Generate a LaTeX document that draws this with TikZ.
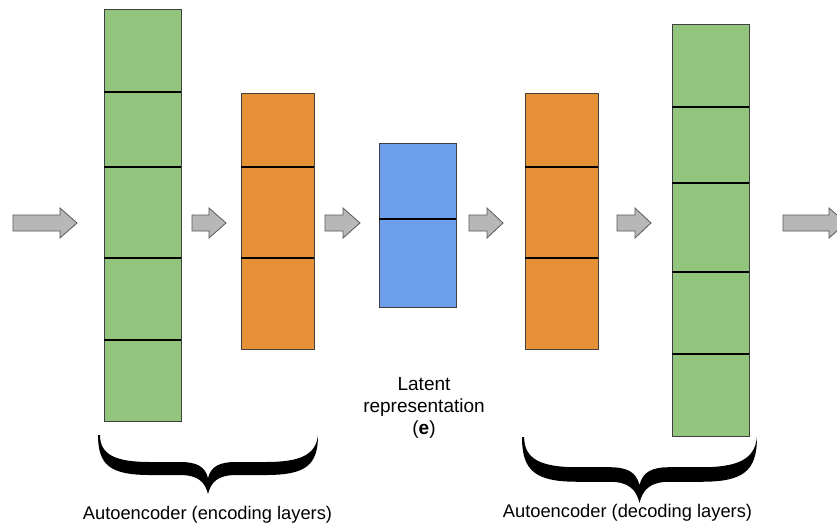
\documentclass[tikz,border=0pt]{standalone}
\usepackage{fontspec}
\setmainfont{Liberation Sans}
\definecolor{lgreen}{HTML}{93C47D}
\definecolor{lorange}{HTML}{E69138}
\definecolor{lblue}{HTML}{6D9EEB}
\definecolor{agray}{HTML}{B7B7B7}
\definecolor{aedge}{HTML}{595959}
\newcommand\garrow[3]{\draw[blockarrow] (#1,215) -- (#2,215) -- (#2,208) -- (#3,223) -- (#2,238) -- (#2,231) -- (#1,231) -- cycle;}
\newcommand\bracefill{\fill (0,0) .. controls (0,30) and (12,40) .. (52,40) -- (82,40) .. controls (100,40) and (107,47) .. (110,59) .. controls (113,47) and (120,40) .. (138,40) -- (168,40) .. controls (208,40) and (220,30) .. (220,0) .. controls (218,20) and (202,27) .. (168,27) -- (138,27) .. controls (122,27) and (113,31) .. (110,43) .. controls (107,31) and (98,27) .. (82,27) -- (52,27) .. controls (18,27) and (2,20) .. (2,0) -- cycle;}
\begin{document}
\begin{tikzpicture}[x=1pt,y=-1pt,
  layer/.style={draw=black!75, line width=0.8pt, inner sep=0pt, outer sep=0pt},
  div/.style={line width=2.6pt, black},
  blockarrow/.style={fill=agray, draw=aedge, line width=0.8pt, line join=miter},
  lbl/.style={font=\fontsize{18.3}{22}\selectfont, align=center, inner sep=0pt},
  latlbl/.style={font=\fontsize{19}{22}\selectfont, align=center, inner sep=0pt}]
\useasboundingbox (0,0) rectangle (837,527);
\clip (0,0) rectangle (837,527);
\fill[white] (0,0) rectangle (837,527);
% layers
\node[layer, fill=lgreen, minimum width=77pt, minimum height=412pt] (g1) at (142.5,215) {};
\node[layer, fill=lorange, minimum width=73pt, minimum height=256pt] (o1) at (277.5,221) {};
\node[layer, fill=lblue, minimum width=77pt, minimum height=164pt] (b) at (417.5,225) {};
\node[layer, fill=lorange, minimum width=73pt, minimum height=256pt] (o2) at (561.5,221) {};
\node[layer, fill=lgreen, minimum width=77pt, minimum height=412pt] (g2) at (710.5,230) {};
% dividers
\foreach \yy in {92,167,258,340} {\draw[div] (g1.west |- 0,\yy) -- (g1.east |- 0,\yy);}
\foreach \yy in {167,258} {\draw[div] (o1.west |- 0,\yy) -- (o1.east |- 0,\yy);}
\draw[div] (b.west |- 0,219) -- (b.east |- 0,219);
\foreach \yy in {167,258} {\draw[div] (o2.west |- 0,\yy) -- (o2.east |- 0,\yy);}
\foreach \yy in {107,183,272,354} {\draw[div] (g2.west |- 0,\yy) -- (g2.east |- 0,\yy);}
% block arrows
\garrow{13}{60}{77}
\garrow{192}{209}{226}
\garrow{325}{343}{360}
\garrow{469}{487}{503}
\garrow{617}{635}{651}
\garrow{783}{829}{846}
% braces
\begin{scope}[shift={(98,435)}]
\bracefill
\end{scope}
\begin{scope}[shift={(522,437)}, xscale=1.068, yscale=1.119]
\bracefill
\end{scope}
% labels
\node[lbl] (enc) at (207.5,515) {Autoencoder (encoding layers)};
\node[lbl] (dec) at (627.5,513) {Autoencoder (decoding layers)};
\node[latlbl] (lat) at (424,408) {Latent\\representation\\(\textbf{e})};
\end{tikzpicture}
\end{document}
